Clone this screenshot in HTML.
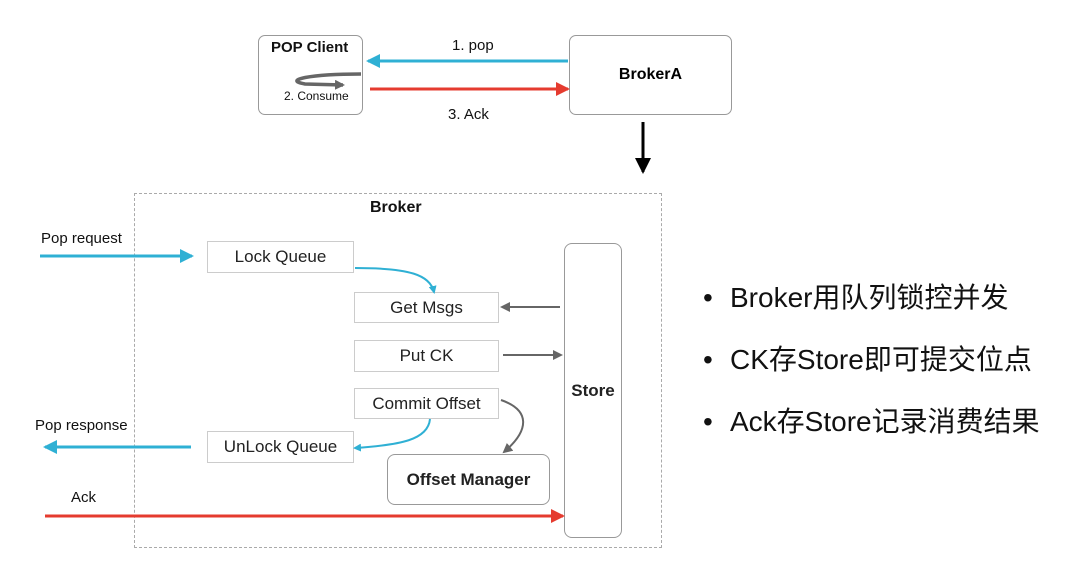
<!DOCTYPE html>
<html><head><meta charset="utf-8"><style>
body{margin:0;width:1080px;height:578px;background:#fff;overflow:hidden;font-family:"Liberation Sans","Noto Sans CJK SC",sans-serif;position:relative}
.a{position:absolute}
.bx{position:absolute;border:1px solid #ccc;box-sizing:border-box;display:flex;align-items:center;justify-content:center;font-size:17px;color:#222;background:#fff}
.t{position:absolute;font-size:15px;color:#111;white-space:nowrap}
.bul{position:absolute;left:703px;font-size:28px;color:#111;white-space:nowrap}
.bul span{display:inline-block;width:27px}
</style></head><body>
<div class="a" style="left:258px;top:35px;width:105px;height:80px;border:1px solid #999;border-radius:7px;box-sizing:border-box"></div>
<div class="t" style="left:271px;top:39px;font-weight:bold;font-size:15px">POP Client</div>
<div class="t" style="left:284px;top:89px;font-size:12px">2. Consume</div>
<div class="a" style="left:569px;top:35px;width:163px;height:80px;border:1px solid #999;border-radius:7px;box-sizing:border-box;display:flex;align-items:center;justify-content:center;font-weight:bold;font-size:16px">BrokerA</div>
<div class="t" style="left:452px;top:37px">1. pop</div>
<div class="t" style="left:448px;top:106px">3. Ack</div>
<div class="a" style="left:134px;top:193px;width:528px;height:355px;border:1px dashed #aaa;box-sizing:border-box"></div>
<div class="t" style="left:370px;top:199px;font-weight:bold;font-size:16px">Broker</div>
<div class="t" style="left:41px;top:230px">Pop request</div>
<div class="t" style="left:35px;top:417px">Pop response</div>
<div class="t" style="left:71px;top:489px">Ack</div>
<div class="bx" style="left:207px;top:241px;width:147px;height:32px">Lock Queue</div>
<div class="bx" style="left:354px;top:292px;width:145px;height:31px">Get Msgs</div>
<div class="bx" style="left:354px;top:340px;width:145px;height:32px">Put CK</div>
<div class="bx" style="left:354px;top:388px;width:145px;height:31px">Commit Offset</div>
<div class="bx" style="left:207px;top:431px;width:147px;height:32px">UnLock Queue</div>
<div class="bx" style="left:387px;top:454px;width:163px;height:51px;border-color:#999;border-radius:8px;font-weight:bold">Offset Manager</div>
<div class="bx" style="left:564px;top:243px;width:58px;height:295px;border-color:#999;border-radius:8px;font-weight:bold">Store</div>
<svg class="a" style="left:0;top:0" width="1080" height="578">
<defs>
<marker id="b" markerWidth="8" markerHeight="8" refX="6" refY="4" orient="auto" markerUnits="userSpaceOnUse"><path d="M0,0 L8,4 L0,8z" fill="#2fb0d4"/></marker>
<marker id="bb" markerWidth="14" markerHeight="14" refX="12" refY="7" orient="auto" markerUnits="userSpaceOnUse"><path d="M0,0 L14,7 L0,14z" fill="#2fb0d4"/></marker>
<marker id="r" markerWidth="14" markerHeight="14" refX="12" refY="7" orient="auto" markerUnits="userSpaceOnUse"><path d="M0,0 L14,7 L0,14z" fill="#e53b2f"/></marker>
<marker id="g" markerWidth="10" markerHeight="10" refX="8" refY="5" orient="auto" markerUnits="userSpaceOnUse"><path d="M0,0 L10,5 L0,10z" fill="#666"/></marker>
<marker id="k" markerWidth="16" markerHeight="16" refX="14" refY="8" orient="auto" markerUnits="userSpaceOnUse"><path d="M0,0 L16,8 L0,16z" fill="#000"/></marker>
</defs>
<line x1="568" y1="61" x2="368" y2="61" stroke="#2fb0d4" stroke-width="3" marker-end="url(#bb)"/>
<line x1="370" y1="89" x2="568" y2="89" stroke="#e53b2f" stroke-width="3" marker-end="url(#r)"/>
<path d="M361,74 C310,74 282,80 305,84 L343,85" stroke="#666" stroke-width="3.5" fill="none" marker-end="url(#g)"/>
<line x1="643" y1="122" x2="643" y2="172" stroke="#000" stroke-width="3" marker-end="url(#k)"/>
<line x1="40" y1="256" x2="192" y2="256" stroke="#2fb0d4" stroke-width="3" marker-end="url(#bb)"/>
<line x1="191" y1="447" x2="45" y2="447" stroke="#2fb0d4" stroke-width="3" marker-end="url(#bb)"/>
<line x1="45" y1="516" x2="563" y2="516" stroke="#e53b2f" stroke-width="3" marker-end="url(#r)"/>
<path d="M355,268 C410,268 430,275 434,292" stroke="#2fb0d4" stroke-width="2" fill="none" marker-end="url(#b)"/>
<path d="M430,419 C428,440 400,445 355,448" stroke="#2fb0d4" stroke-width="2" fill="none" marker-end="url(#b)"/>
<path d="M501,400 C530,410 530,430 504,452" stroke="#666" stroke-width="2" fill="none" marker-end="url(#g)"/>
<line x1="560" y1="307" x2="502" y2="307" stroke="#666" stroke-width="2" marker-end="url(#g)"/>
<line x1="503" y1="355" x2="561" y2="355" stroke="#666" stroke-width="2" marker-end="url(#g)"/>
</svg>
<div class="bul" style="top:276px"><span>•</span>Broker用队列锁控并发</div>
<div class="bul" style="top:338px"><span>•</span>CK存Store即可提交位点</div>
<div class="bul" style="top:400px"><span>•</span>Ack存Store记录消费结果</div>
</body></html>
